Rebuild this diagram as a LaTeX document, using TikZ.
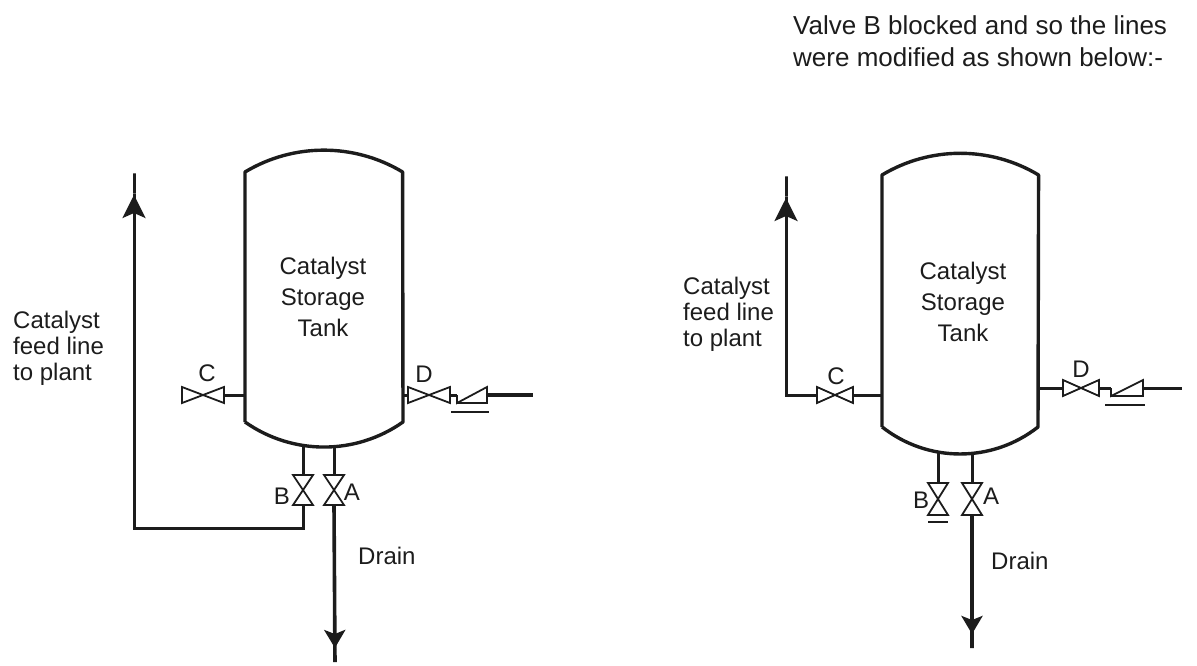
\documentclass[tikz,border=0pt]{standalone}
\usepackage{fontspec}
\setmainfont{Liberation Sans}
\usetikzlibrary{arrows.meta}
\definecolor{ink}{HTML}{1C1C1C}
\tikzset{
  x=1pt,y=-1pt,
  pipe/.style={draw=ink,line width=3pt},
  thinpipe/.style={draw=ink,line width=2.2pt},
  vessel/.style={draw=ink,line width=3.4pt,line join=round},
  body/.style={inner sep=0pt,outer sep=0pt,text=ink,align=center},
  flowtip/.style={-{Stealth[length=23pt,width=23pt,inset=5pt]Rectangle[length=23pt,width=3pt]}},
  draintip/.style={-{Stealth[length=18pt,width=21pt,inset=4pt]Rectangle[length=16pt,width=3.6pt]}},
  vfit/.style={draw=ink,line width=1.8pt,line join=miter},
  valvebox/.style={inner sep=0pt,outer sep=0pt},
  lab/.style={inner sep=0pt,text=ink,font=\fontsize{24}{26}\selectfont,align=left},
  tag/.style={inner sep=0pt,text=ink,font=\fontsize{24}{24}\selectfont},
}
\newcommand{\hvalve}[5]{% name, x, y, w, h
  \node[valvebox,minimum width=#4pt,minimum height=#5pt] (#1) at (#2,#3) {};
  \draw[vfit] (#1.north west)--(#1.south east)--(#1.north east)--(#1.south west)--cycle;
}
\newcommand{\vvalve}[5]{% name, x, y, w, h
  \node[valvebox,minimum width=#4pt,minimum height=#5pt] (#1) at (#2,#3) {};
  \draw[vfit] (#1.north west)--(#1.south east)--(#1.south west)--(#1.north east)--cycle;
}
\newcommand{\checkv}[4]{% name, x, y, w
  \node[valvebox,minimum width=#4pt,minimum height=16pt] (#1) at (#2,#3) {};
  \draw[vfit] (#1.west)--(#1.south west)--(#1.north east)--(#1.south east)--(#1.west |- #1.south);
  \draw[thinpipe] ([xshift=-6pt,yshift=-9pt]#1.south west)--([xshift=2pt,yshift=-9pt]#1.south east);
}
\begin{document}
\begin{tikzpicture}
\useasboundingbox (0,0) rectangle (1197,666);
% LEFT
\node[body,minimum width=158pt,minimum height=250pt] (tankL) at (324,297) {};
\node[body,font=\fontsize{24}{31}\selectfont] (textL) at (323,297) {Catalyst\\Storage\\Tank};
\draw[vessel] (tankL.south west)--(tankL.north west) arc[start angle=-121,end angle=-59,radius=153]
  --(tankL.south east) arc[start angle=54.8,end angle=125.2,radius=137];
\coordinate (Lbot1) at (303,445); \coordinate (Lbot2) at (334,445);
\coordinate (Lwest) at (tankL.west |- 0,395); \coordinate (Least) at (tankL.east |- 0,395);
\hvalve{LC}{203}{395}{42}{16}
\hvalve{LD}{429}{395}{42}{16}
\checkv{LK}{472}{395}{30}
\vvalve{LB}{303}{490}{20}{30}
\vvalve{LA}{334}{490}{20}{30}
\coordinate (Lout) at (533,395);
\coordinate (Lcorner) at (303,528);
\coordinate (Lelbow) at (134,528);
\coordinate (Ltip) at (134,172);
\coordinate (Ldrain) at (335,664);
\draw[pipe] (LC.east)--(Lwest);
\draw[pipe] (Least)--(LD.west);
\draw[pipe] (LD.east)--(LK.west);
\draw[pipe,line width=4.5pt] (LK.east)--(Lout);
\draw[pipe] (Lbot1)--(LB.north);
\draw[pipe] (Lbot2)--(LA.north);
\draw[pipe,flowtip] (LB.south)--(Lcorner)--(Lelbow)--(Ltip);
\draw[pipe,line width=3.6pt,draintip] (LA.south)--(Ldrain);
\node[tag] (Ctl) at (207,373) {C};
\node[tag] (Dtl) at (424,374) {D};
\node[tag] (Btl) at (282,496) {B};
\node[tag] (Atl) at (352,492) {A};
\node[lab,anchor=west] (feedL) at (13,348) {Catalyst\\feed line\\to plant};
\node[lab,anchor=west] (drainL) at (358,556) {Drain};
% RIGHT
\node[body,minimum width=156pt,minimum height=252pt] (tankR) at (960,301) {};
\node[body,font=\fontsize{24}{31}\selectfont] (textR) at (963,302) {Catalyst\\Storage\\Tank};
\draw[vessel] (tankR.south west)--(tankR.north west) arc[start angle=-121,end angle=-59,radius=152]
  --(tankR.south east) arc[start angle=51.8,end angle=128.2,radius=126];
\coordinate (Rbot1) at (938,451); \coordinate (Rbot2) at (972,453);
\coordinate (Rwest) at (tankR.west |- 0,395); \coordinate (Reast) at (tankR.east |- 0,388);
\hvalve{RC}{835}{395}{36}{16}
\hvalve{RD}{1081}{388}{36}{16}
\checkv{RK}{1127}{388}{32}
\vvalve{RB}{938}{499}{20}{32}
\vvalve{RA}{972}{499}{20}{32}
\coordinate (Rout) at (1182,388);
\coordinate (Relbow) at (786,395);
\coordinate (Rtip) at (786,175);
\coordinate (Rdrain) at (972,650);
\coordinate (RcapL) at (928,522); \coordinate (RcapR) at (948,522);
\draw[pipe] (RC.east)--(Rwest);
\draw[pipe,flowtip] (RC.west)--(Relbow)--(Rtip);
\draw[pipe] (Reast)--(RD.west);
\draw[pipe] (RD.east)--(RK.west);
\draw[pipe] (RK.east)--(Rout);
\draw[pipe] (Rbot1)--(RB.north);
\draw[pipe] (Rbot2)--(RA.north);
\draw[thinpipe] (RcapL)--(RcapR);
\draw[pipe,line width=3.6pt,draintip] (RA.south)--(Rdrain);
\node[tag] (Ctr) at (836,376) {C};
\node[tag] (Dtr) at (1081,369) {D};
\node[tag] (Btr) at (921,500) {B};
\node[tag] (Atr) at (991,496) {A};
\node[lab,anchor=west] (feedR) at (683,314) {Catalyst\\feed line\\to plant};
\node[lab,anchor=west] (drainR) at (991,561) {Drain};
\node[inner sep=0pt,text=ink,anchor=west,align=left,font=\fontsize{26}{32}\selectfont] (note) at (793,41) {Valve B blocked and so the lines\\were modified as shown below:-};
\end{tikzpicture}
\end{document}
